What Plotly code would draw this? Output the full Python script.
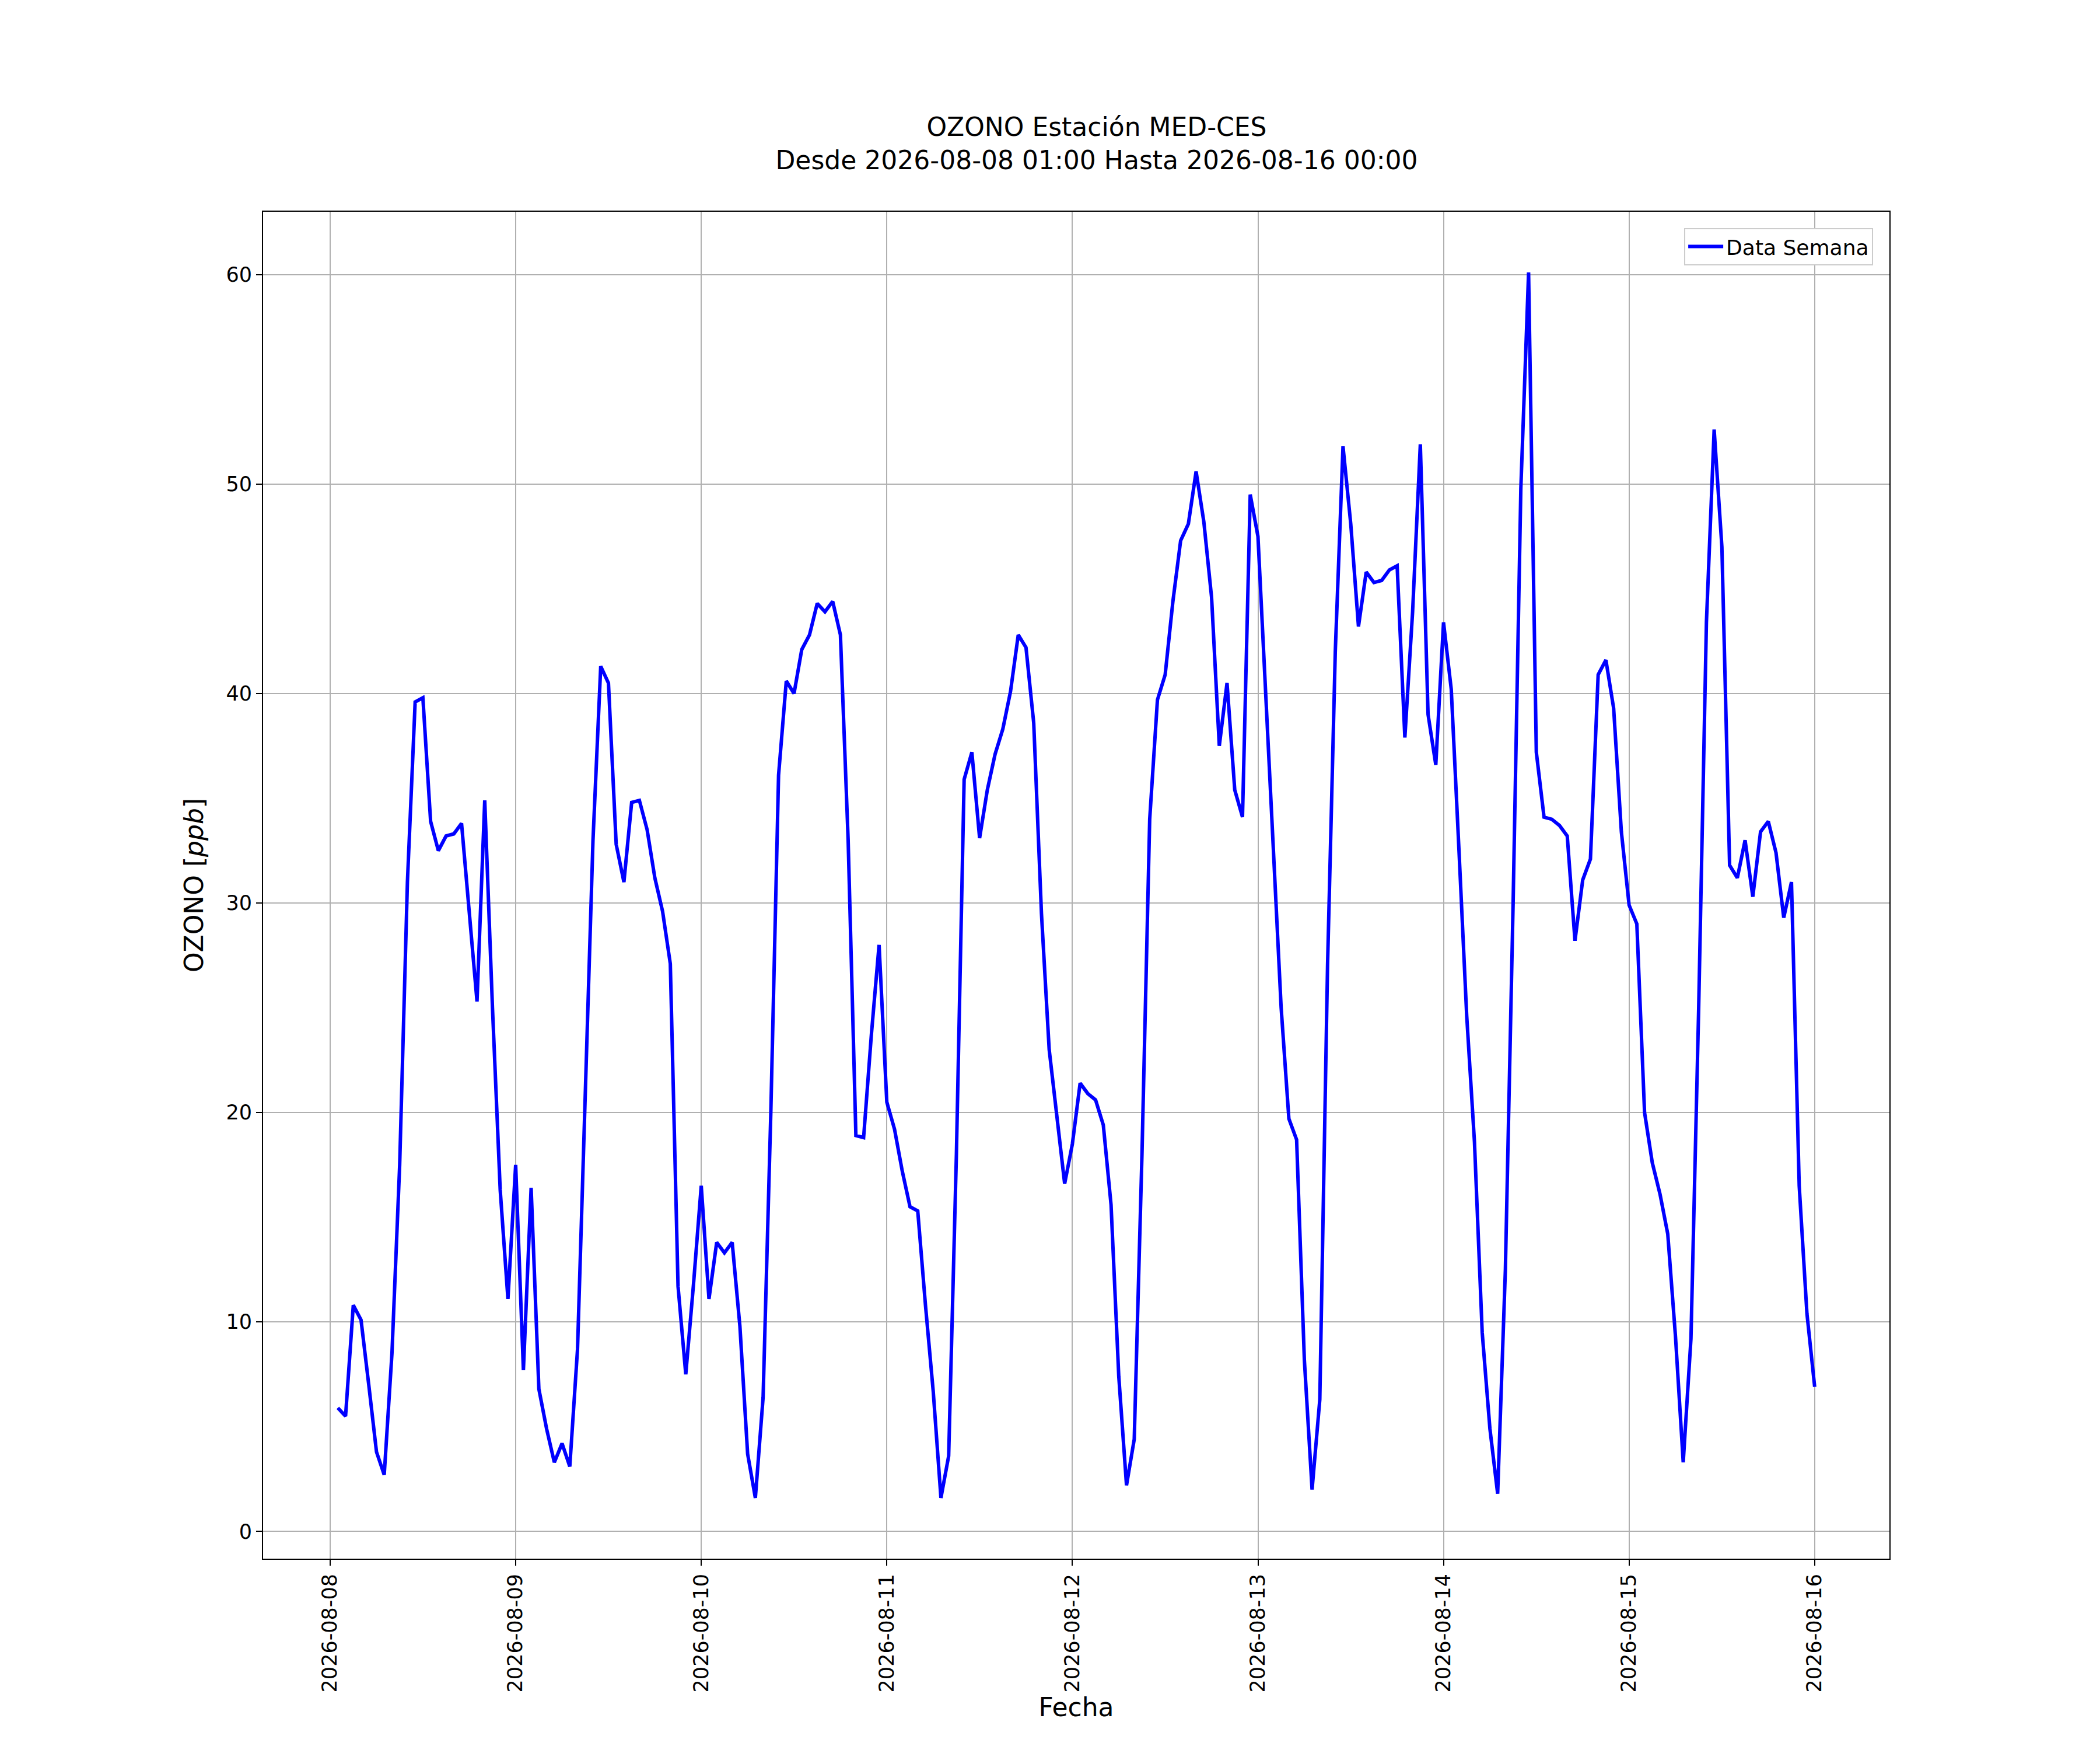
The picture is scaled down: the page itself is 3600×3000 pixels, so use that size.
import pandas as pd
import plotly.graph_objects as go

fechas = pd.date_range('2026-08-08 01:00', '2026-08-16 00:00', freq='h')

ozono = [
    5.9, 5.5, 10.8, 10.1, 7.0, 3.8, 2.7, 8.5, 17.5, 31.0, 39.6, 39.8,
    33.9, 32.5, 33.2, 33.3, 33.8, 29.5, 25.3, 34.9, 25.0, 16.3, 11.1, 17.5,
    7.7, 16.4, 6.8, 4.9, 3.3, 4.2, 3.1, 8.7, 21.0, 33.0, 41.3, 40.5,
    32.8, 31.0, 34.8, 34.9, 33.5, 31.2, 29.6, 27.1, 11.7, 7.5, 11.8, 16.5,
    11.1, 13.8, 13.3, 13.8, 9.8, 3.7, 1.6, 6.4, 20.0, 36.1, 40.6, 40.0,
    42.1, 42.8, 44.3, 43.9, 44.4, 42.8, 33.0, 18.9, 18.8, 23.7, 28.0, 20.5,
    19.2, 17.2, 15.5, 15.3, 10.8, 6.7, 1.6, 3.6, 18.0, 35.9, 37.2, 33.1,
    35.4, 37.1, 38.3, 40.1, 42.8, 42.2, 38.6, 29.5, 23.0, 19.9, 16.6, 18.5,
    21.4, 20.9, 20.6, 19.4, 15.6, 7.4, 2.2, 4.4, 18.0, 34.0, 39.7, 40.9,
    44.4, 47.3, 48.1, 50.6, 48.2, 44.6, 37.5, 40.5, 35.4, 34.1, 49.5, 47.5,
    40.1, 32.5, 25.0, 19.7, 18.7, 8.2, 2.0, 6.3, 27.0, 42.0, 51.8, 48.1,
    43.2, 45.8, 45.3, 45.4, 45.9, 46.1, 37.9, 43.9, 51.9, 39.0, 36.6, 43.4,
    40.2, 32.5, 24.6, 18.6, 9.5, 4.9, 1.8, 12.5, 30.0, 49.8, 60.1, 37.2,
    34.1, 34.0, 33.7, 33.2, 28.2, 31.1, 32.1, 40.9, 41.6, 39.3, 33.4, 29.9,
    29.0, 20.0, 17.6, 16.1, 14.2, 9.3, 3.3, 9.2, 25.0, 43.4, 52.6, 47.0,
    31.8, 31.2, 33.0, 30.3, 33.4, 33.9, 32.4, 29.3, 31.0, 16.5, 10.4, 6.9,
]

tick_fechas = pd.date_range('2026-08-08', '2026-08-16', freq='D')
tick_labels = [d.strftime('%Y-%m-%d') for d in tick_fechas]

fig = go.Figure()
fig.add_trace(go.Scatter(x=fechas, y=ozono, mode='lines', name='Data Semana',
                         line=dict(color='blue', width=6)))

eje = dict(showline=True, linecolor='black', linewidth=2, mirror=True,
           showgrid=True, gridcolor='#b0b0b0', gridwidth=2, zeroline=False,
           ticks='outside', ticklen=10, tickwidth=2, tickcolor='black',
           tickfont=dict(size=35, color='black'))

fig.update_layout(
    width=3600, height=3000,
    paper_bgcolor='white', plot_bgcolor='white',
    font=dict(family='DejaVu Sans', color='black'),
    margin=dict(l=443, r=369, t=355, b=336),
    title=dict(text='OZONO Estación MED-CES<br>Desde 2026-08-08 01:00 Hasta 2026-08-16 00:00',
               x=0.52, xanchor='center', y=0.925, yanchor='top', font=dict(size=44)),
    xaxis=dict(eje, tickvals=tick_fechas, ticktext=tick_labels, tickangle=-90,
               range=['2026-08-07 15:20', '2026-08-16 09:40'],
               title=dict(text='Fecha', font=dict(size=44), standoff=8)),
    yaxis=dict(eje, tickvals=[0, 10, 20, 30, 40, 50, 60],
               range=[-1.3, 63.0],
               title=dict(text='OZONO [<i>ppb</i>]', font=dict(size=44), standoff=25)),
    legend=dict(x=0.99, y=0.988, xanchor='right', yanchor='top',
                bgcolor='white', bordercolor='#cccccc', borderwidth=2,
                font=dict(size=36), itemwidth=60),
    showlegend=True,
)

fig.write_html('out.html')
